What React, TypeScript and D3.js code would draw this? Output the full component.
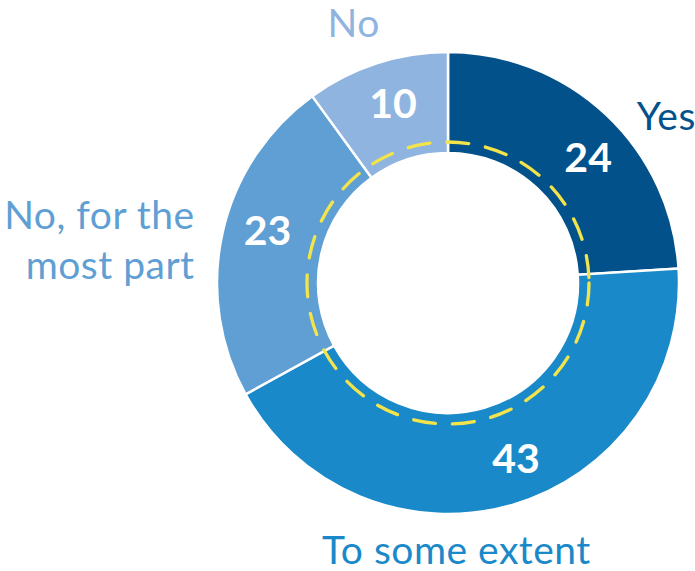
import * as React from "react"
import * as d3 from "d3"

// survey answers, share of respondents (%)
const categories = ["Yes", "To some extent", "No, for the most part", "No"]
const values = [24, 43, 23, 10]
const labelLines = [["Yes"], ["To some extent"], ["No, for the", "most part"], ["No"]]

const colors = ["#03518A", "#1A89C9", "#5F9FD4", "#8FB4DF"]

const width = 695
const height = 571
const cx = 448
const cy = 283
const outerR = 231
const innerR = 130
const ringR = 141

// label placement (degrees clockwise from 12 o'clock, radius)
const valueNudge = [5, -5, 3.6, 1]
const valueRadius = 188
const catAngle = [48.5, 178.2, 279.6, 340]
const catRadius = [252, 267, 257, 276]
const catAnchor = ["start", "middle", "end", "middle"]

const font = "Lato, 'Open Sans', sans-serif"

function polar(angleDeg: number, r: number) {
  const a = (angleDeg * Math.PI) / 180
  return [cx + r * Math.sin(a), cy - r * Math.cos(a)]
}

export default function App() {
  const pie = d3
    .pie<number>()
    .sort(null)
    .value((d) => d)
  const arcs = pie(values)

  const arc = d3
    .arc<d3.PieArcDatum<number>>()
    .innerRadius(innerR)
    .outerRadius(outerR)

  return (
    <svg
      width={width}
      height={height}
      style={{ position: "absolute", left: 0, top: 0, background: "#fff" }}
    >
      <g transform={`translate(${cx},${cy})`}>
        {arcs.map((a, i) => (
          <path
            key={categories[i]}
            d={arc(a) || ""}
            fill={colors[i]}
            stroke="#fff"
            strokeWidth={2.5}
          />
        ))}
        <circle
          r={ringR}
          fill="none"
          stroke="#F2E44A"
          strokeWidth={3.3}
          strokeDasharray="22 17"
          strokeLinecap="round"
        />
      </g>

      {arcs.map((a, i) => {
        const mid = (((a.startAngle + a.endAngle) / 2) * 180) / Math.PI
        const [x, y] = polar(mid + valueNudge[i], valueRadius)
        return (
          <text
            key={"v" + i}
            x={x}
            y={y}
            dy="0.36em"
            textAnchor="middle"
            fill="#fff"
            fontFamily={font}
            fontWeight={700}
            fontSize={41}
          >
            {values[i]}
          </text>
        )
      })}

      {labelLines.map((lines, i) => {
        const [x, y] = polar(catAngle[i], catRadius[i])
        const lh = 50
        return (
          <text
            key={"c" + i}
            textAnchor={catAnchor[i]}
            fill={colors[i]}
            fontFamily={font}
            fontSize={39}
            letterSpacing={0.5}
          >
            {lines.map((t, j) => (
              <tspan
                key={j}
                x={x}
                y={y - ((lines.length - 1) * lh) / 2 + j * lh}
                dy="0.35em"
              >
                {t}
              </tspan>
            ))}
          </text>
        )
      })}
    </svg>
  )
}
